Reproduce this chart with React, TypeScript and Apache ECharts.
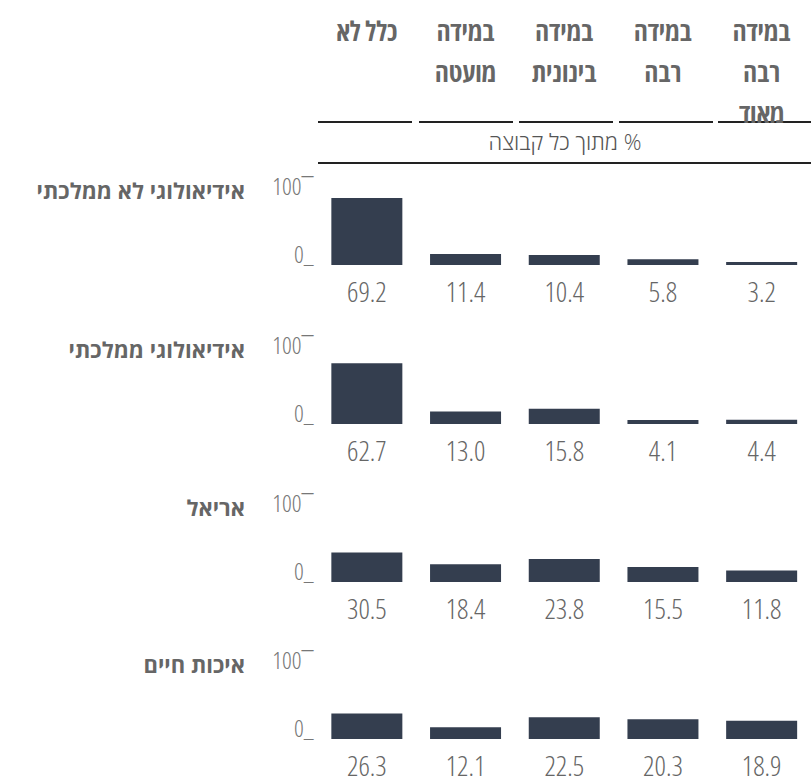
import React, { useEffect, useRef } from "react";
import * as echarts from "echarts";

// ---- data ----
const categories = ["כלל לא", "במידה\nמועטה", "במידה\nבינונית", "במידה\nרבה", "במידה\nרבה\nמאוד"];
const groups = ["אידיאולוגי לא ממלכתי", "אידיאולוגי ממלכתי", "אריאל", "איכות חיים"];
const valuesIdeoNonState = [69.2, 11.4, 10.4, 5.8, 3.2];
const valuesIdeoState = [62.7, 13.0, 15.8, 4.1, 4.4];
const valuesAriel = [30.5, 18.4, 23.8, 15.5, 11.8];
const valuesQuality = [26.3, 12.1, 22.5, 20.3, 18.9];
const seriesValues = [valuesIdeoNonState, valuesIdeoState, valuesAriel, valuesQuality];
const yTickLabels = ["0_", "100‾"];
const subtitle = "% מתוך כל קבוצה";

// ---- layout / style ----
const W = 811;
const H = 781;
const GRID_LEFT = 317.5;
const GRID_WIDTH = 495;
const GRID_H = 97;
const BASELINES = [265, 424, 582, 739];
const BAR_COLOR = "#343e4f";
const TEXT = "#666666";
const FONT = "'Open Sans', 'Noto Sans', sans-serif";
const SEG_STARTS = [318, 419, 519, 619, 718];
const SEG_W = 94;

const HEADER_SIZE = 27; // condensed
const VALUE_SIZE = 28; // condensed
const AXIS_SIZE = 24; // condensed
const ROW_SIZE = 22; // normal width
const SUB_SIZE = 22; // normal width

const condensedSizes = [HEADER_SIZE, VALUE_SIZE, AXIS_SIZE];
const css =
  condensedSizes
    .map((s) => `#root svg text[style*="font-size:${s}px"], #root svg text[style*="font-size: ${s}px"]`)
    .join(", ") + " { font-stretch: 75%; }";

export default function App() {
  const ref = useRef<HTMLDivElement>(null);
  useEffect(() => {
    document.body.style.margin = "0";
    if (!ref.current) return;
    const chart = echarts.init(ref.current, undefined, { renderer: "svg" });

    const grids: any[] = [{ left: GRID_LEFT, width: GRID_WIDTH, top: 0, height: 1 }];
    const xAxes: any[] = [
      {
        gridIndex: 0,
        type: "category",
        data: categories,
        axisLine: { show: false },
        axisTick: { show: false },
        axisLabel: {
          interval: 0,
          margin: 9,
          fontSize: HEADER_SIZE,
          fontWeight: "bold",
          lineHeight: 41,
          color: TEXT,
          fontFamily: FONT,
        },
      },
    ];
    const yAxes: any[] = [{ gridIndex: 0, type: "value", show: false }];
    const series: any[] = [];

    seriesValues.forEach((vals, i) => {
      const gi = i + 1;
      grids.push({ left: GRID_LEFT, width: GRID_WIDTH, top: BASELINES[i] - GRID_H, height: GRID_H });
      xAxes.push({
        gridIndex: gi,
        type: "category",
        data: categories,
        axisLine: { show: false },
        axisTick: { show: false },
        axisLabel: {
          interval: 0,
          margin: 14,
          fontSize: VALUE_SIZE,
          fontWeight: 300,
          lineHeight: 24,
          color: TEXT,
          fontFamily: FONT,
          formatter: (_v: string, idx: number) => vals[idx].toFixed(1),
        },
      });
      const axisRich = { fontSize: AXIS_SIZE, fontWeight: 300, color: "#777777", fontFamily: FONT };
      yAxes.push({
        gridIndex: gi,
        type: "value",
        min: 0,
        max: 100,
        interval: 100,
        splitLine: { show: false },
        axisLine: { show: false },
        axisTick: { show: false },
        axisLabel: {
          margin: 4,
          fontSize: AXIS_SIZE,
          fontWeight: 300,
          color: "#777777",
          fontFamily: FONT,
          formatter: (v: number) => (v >= 100 ? `{max|${yTickLabels[1]}}` : `{min|${yTickLabels[0]}}`),
          rich: {
            max: { ...axisRich, padding: [34, 0, 0, 0] },
            min: { ...axisRich, padding: [0, 0, 24, 0] },
          },
        },
      });
      series.push({
        type: "bar",
        xAxisIndex: gi,
        yAxisIndex: gi,
        data: vals,
        barWidth: 71,
        itemStyle: { color: BAR_COLOR },
      });
    });

    const graphic: any[] = [];
    SEG_STARTS.forEach((x) => {
      graphic.push({
        type: "line",
        shape: { x1: x, y1: 122, x2: Math.min(x + SEG_W, W), y2: 122 },
        style: { stroke: "#222222", lineWidth: 2 },
      });
    });
    graphic.push({
      type: "line",
      shape: { x1: 318, y1: 163, x2: W, y2: 163 },
      style: { stroke: "#222222", lineWidth: 2 },
    });
    graphic.push({
      type: "text",
      x: 565,
      y: 141,
      style: {
        text: "\u200F" + subtitle,
        fill: "#555555",
        fontSize: SUB_SIZE,
        fontWeight: 300,
        fontFamily: FONT,
        align: "center",
        verticalAlign: "middle",
      },
    });
    groups.forEach((g, i) => {
      graphic.push({
        type: "text",
        x: 245,
        y: BASELINES[i] - 75,
        style: {
          text: g,
          fill: TEXT,
          fontSize: ROW_SIZE,
          fontWeight: "bold",
          fontFamily: FONT,
          align: "right",
          verticalAlign: "middle",
        },
      });
    });

    chart.setOption({
      animation: false,
      grid: grids,
      xAxis: xAxes,
      yAxis: yAxes,
      series,
      graphic,
    });
    return () => chart.dispose();
  }, []);
  return (
    <>
      <style>{css}</style>
      <div ref={ref} style={{ width: W, height: H }} />
    </>
  );
}
